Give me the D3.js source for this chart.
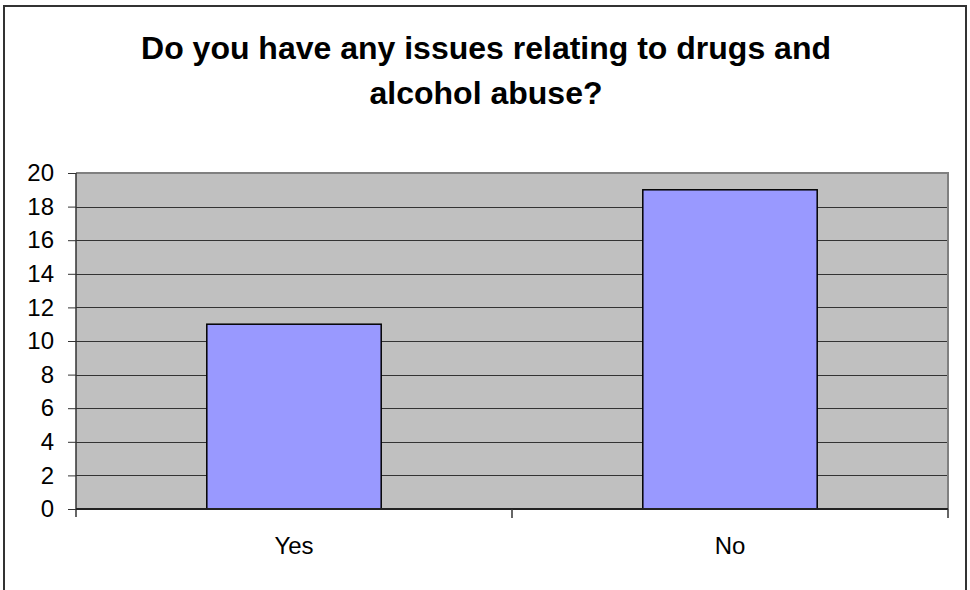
<!DOCTYPE html>
<html><head><meta charset="utf-8">
<script src="https://cdn.jsdelivr.net/npm/d3@7"></script>
<style>body{margin:0;background:#fff}svg{display:block}</style>
</head><body>
<svg id="c" width="970" height="590"></svg>
<script>
const titleLines = ["Do you have any issues relating to drugs and", "alcohol abuse?"];
const categories = ["Yes", "No"];
const values = [11, 19];
const yTicks = [0, 2, 4, 6, 8, 10, 12, 14, 16, 18, 20];

const svg = d3.select("#c");
const font = "'Liberation Sans', Arial, sans-serif";
const L = 76, R = 948, T = 173, B = 509;

// outer border
svg.append("rect").attr("x", 4).attr("y", 6).attr("width", 962).attr("height", 600)
  .attr("fill", "#fff").attr("stroke", "#333").attr("stroke-width", 2);

// title
svg.append("text").attr("x", 486).attr("y", 59).attr("text-anchor", "middle")
  .attr("font-family", font).attr("font-weight", "bold").attr("font-size", 32)
  .selectAll("tspan").data(titleLines).join("tspan")
  .attr("x", 486).attr("dy", (d, i) => i === 0 ? 0 : 45).text(d => d);

const x = d3.scaleBand().domain(categories).range([L, R]).paddingInner(0.6).paddingOuter(0.3);
const y = d3.scaleLinear().domain([0, 20]).range([B, T]);

// plot background
svg.append("rect").attr("x", L).attr("y", T).attr("width", R - L).attr("height", B - T)
  .attr("fill", "#c0c0c0");

// gridlines
svg.append("g").selectAll("line").data(yTicks.filter(d => d > 0 && d < 20)).join("line")
  .attr("x1", L).attr("x2", R).attr("y1", d => Math.round(y(d)) + 0.5).attr("y2", d => Math.round(y(d)) + 0.5)
  .attr("stroke", "#333").attr("stroke-width", 1);

// plot border top/right
svg.append("path").attr("d", `M${L},${T}H${R}V${B}`).attr("fill", "none")
  .attr("stroke", "#808080").attr("stroke-width", 2);

// bars
svg.append("g").selectAll("rect").data(values).join("rect")
  .attr("x", (d, i) => x(categories[i])).attr("width", x.bandwidth())
  .attr("y", d => y(d)).attr("height", d => B - y(d))
  .attr("fill", "#9999ff").attr("stroke", "#000").attr("stroke-width", 1.5);

// y axis
const yAxis = d3.axisLeft(y).tickValues(yTicks).tickSize(8).tickPadding(14).tickFormat(d3.format("d"));
const gy = svg.append("g").attr("transform", `translate(${L},0)`).call(yAxis);
gy.select(".domain").attr("stroke", "#333").attr("stroke-width", 1.5).attr("d", `M0,${T}V${B + 8}`);
gy.selectAll(".tick line").attr("stroke", "#333");
gy.selectAll("text").attr("font-family", font).attr("font-size", 24).attr("fill", "#000");

// x axis
const gx = svg.append("g").attr("transform", `translate(0,${B})`);
gx.append("line").attr("x1", L).attr("x2", R).attr("y1", 0).attr("y2", 0).attr("stroke", "#222").attr("stroke-width", 2);
const bounds = [L].concat(categories.map(c => x(c) + x.bandwidth() / 2 + x.step() / 2));
gx.selectAll("line.tk").data(bounds.slice(1)).join("line").attr("class", "tk")
  .attr("x1", d => d).attr("x2", d => d).attr("y1", 0).attr("y2", 9).attr("stroke", "#333").attr("stroke-width", 1.5);
gx.selectAll("text").data(categories).join("text")
  .attr("x", d => x(d) + x.bandwidth() / 2).attr("y", 45).attr("text-anchor", "middle")
  .attr("font-family", font).attr("font-size", 24).text(d => d);
</script>
</body></html>
